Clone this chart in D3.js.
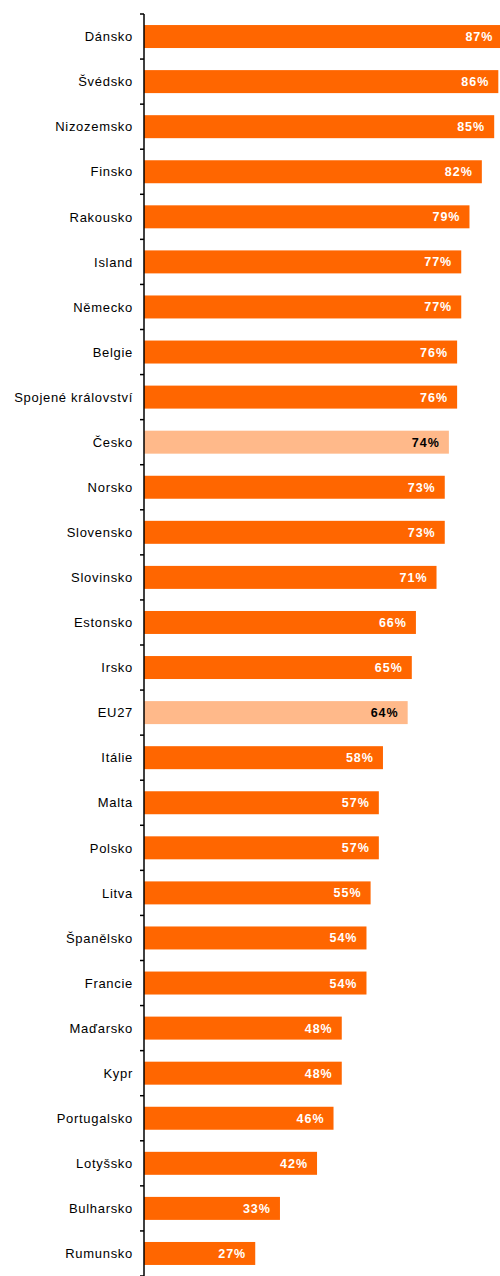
<!DOCTYPE html>
<html>
<head>
<meta charset="utf-8">
<script src="https://cdn.jsdelivr.net/npm/d3@7"></script>
<style>
  body { margin: 0; background: #fff; }
  svg { display: block; font-family: Arial, "Liberation Sans", sans-serif; }
</style>
</head>
<body>
<svg id="chart" width="500" height="1276"></svg>
<script>
// data
const countries = ['Dánsko', 'Švédsko', 'Nizozemsko', 'Finsko', 'Rakousko', 'Island', 'Německo', 'Belgie',
  'Spojené království', 'Česko', 'Norsko', 'Slovensko', 'Slovinsko', 'Estonsko', 'Irsko', 'EU27', 'Itálie',
  'Malta', 'Polsko', 'Litva', 'Španělsko', 'Francie', 'Maďarsko', 'Kypr', 'Portugalsko', 'Lotyšsko',
  'Bulharsko', 'Rumunsko'];
const values = [87, 86, 85, 82, 79, 77, 77, 76, 76, 74, 73, 73, 71, 66, 65, 64, 58, 57, 57, 55, 54, 54, 48, 48, 46, 42, 33, 27];
const highlighted = ['Česko', 'EU27'];

const svg = d3.select('#chart');
const margin = { top: 14, left: 144 };
const height = +svg.attr('height');

const yScale = d3.scaleBand()
  .domain(countries)
  .range([margin.top, height])
  .paddingInner(0.49)
  .paddingOuter(0.245);

// bars run past the right edge like in the original (0..100 -> 412px)
const xScale = d3.scaleLinear()
  .domain([0, 100])
  .range([margin.left, margin.left + 412]);

const rows = countries.map((c, i) => ({ country: c, value: values[i] }));

// bars
svg.append('g')
  .selectAll('rect').data(rows)
  .enter().append('rect')
    .attr('x', xScale(0))
    .attr('y', d => yScale(d.country))
    .attr('width', d => xScale(d.value) - xScale(0))
    .attr('height', yScale.bandwidth())
    .attr('fill', d => highlighted.includes(d.country) ? '#ffb98a' : '#ff6600');

// value labels inside bar ends
svg.append('g')
  .selectAll('text').data(rows)
  .enter().append('text')
    .attr('x', d => xScale(d.value) - 9)
    .attr('y', d => yScale(d.country) + yScale.bandwidth() / 2)
    .attr('dy', '0.36em')
    .attr('text-anchor', 'end')
    .style('font-size', '12.5px')
    .style('font-weight', 'bold')
    .style('letter-spacing', '1px')
    .attr('fill', d => highlighted.includes(d.country) ? '#000' : '#fff')
    .text(d => d.value + '%');

// category axis with ticks between the bars
const axisG = svg.append('g')
  .attr('transform', `translate(${margin.left},0)`);

axisG.append('line')
  .attr('x1', 0).attr('x2', 0)
  .attr('y1', margin.top).attr('y2', height)
  .attr('stroke', '#000')
  .attr('stroke-width', 1.5);

const step = yScale.step();
const tickYs = d3.range(countries.length + 1).map(i => margin.top + i * step);
axisG.selectAll('.tick').data(tickYs)
  .enter().append('line')
    .attr('class', 'tick')
    .attr('x1', -4).attr('x2', 0)
    .attr('y1', d => d).attr('y2', d => d)
    .attr('stroke', '#000')
    .attr('stroke-width', 1.5);

axisG.selectAll('.label').data(countries)
  .enter().append('text')
    .attr('class', 'label')
    .attr('x', -11)
    .attr('y', d => yScale(d) + yScale.bandwidth() / 2)
    .attr('dy', '0.36em')
    .attr('text-anchor', 'end')
    .style('font-size', '13px')
    .style('letter-spacing', '0.7px')
    .attr('fill', '#000')
    .text(d => d);
</script>
</body>
</html>
